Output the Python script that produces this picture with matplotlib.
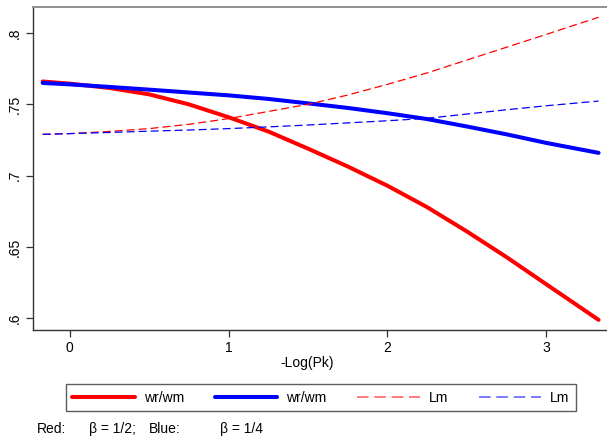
import matplotlib
matplotlib.use('Agg')
import matplotlib.pyplot as plt

plt.rcParams['font.family'] = ['Liberation Sans', 'DejaVu Sans']

# -Log(Pk) grid and the four curves
logpk = [-0.17, 0.0, 0.25, 0.5, 0.75, 1.0, 1.25, 1.5, 1.75, 2.0, 2.25, 2.5, 2.75, 3.0, 3.33]
wr_red = [0.766, 0.7645, 0.7615, 0.757, 0.750, 0.741, 0.731, 0.719, 0.7065,
          0.693, 0.678, 0.661, 0.643, 0.624, 0.599]
wr_blue = [0.765, 0.764, 0.7622, 0.7603, 0.7583, 0.7563, 0.7538, 0.7507, 0.7475,
           0.7438, 0.7397, 0.7345, 0.7290, 0.7230, 0.716]
lm_red = [0.729, 0.7295, 0.731, 0.733, 0.736, 0.740, 0.745, 0.750, 0.7565,
          0.764, 0.772, 0.781, 0.790, 0.799, 0.811]
lm_blue = [0.729, 0.7295, 0.7303, 0.7312, 0.732, 0.733, 0.7342, 0.7355, 0.737,
           0.7385, 0.7402, 0.7432, 0.7462, 0.749, 0.7523]

xticks = [0, 1, 2, 3]
yticks = [0.6, 0.65, 0.7, 0.75, 0.8]
ylabels = ['.6', '.65', '.7', '.75', '.8']

fs = 10

fig = plt.figure(figsize=(6.07, 4.36), dpi=100)
ax = fig.add_axes([33 / 607, 1 - 330 / 436, 1 - 33 / 607, 323 / 436])

dash = (0, (6.4, 3.2))
l1, = ax.plot(logpk, wr_red, color='red', lw=2.9, solid_capstyle='round')
l2, = ax.plot(logpk, wr_blue, color='blue', lw=2.9, solid_capstyle='round')
l3, = ax.plot(logpk, lm_red, color='red', lw=0.9, linestyle=dash)
l4, = ax.plot(logpk, lm_blue, color='blue', lw=0.9, linestyle=dash)

ax.set_xlim(-0.231, 3.383)
ax.set_ylim(0.5919, 0.8182)
ax.set_xticks(xticks)
ax.set_yticks(yticks)
ax.set_yticklabels(ylabels)
ax.tick_params(axis='both', labelsize=fs, length=5, width=0.9, color='#333333')
ax.tick_params(axis='x', pad=3)
ax.tick_params(axis='y', pad=3)
for lab in ax.get_yticklabels():
    lab.set_rotation(90)
    lab.set_va('center')

ax.spines['right'].set_visible(False)
ax.spines['top'].set_color('#888888')
ax.spines['top'].set_linewidth(1.3)
for s in ['left', 'bottom']:
    ax.spines[s].set_color('#333333')
    ax.spines[s].set_linewidth(1.0)

ax.set_xlabel('-Log(Pk)', fontsize=fs)
ax.xaxis.set_label_coords(0.477, -0.102)
ax.xaxis.label.set_va('center')

leg = fig.legend([l1, l2, l3, l4], ['wr/wm', 'wr/wm', 'Lm', 'Lm'],
                 loc='center', bbox_to_anchor=(321 / 607, 1 - 397.5 / 436),
                 ncol=4, fontsize=fs, handlelength=4.5, handletextpad=0.65,
                 columnspacing=2.2, borderpad=0.45, frameon=True, fancybox=False)
leg.get_frame().set_edgecolor('#333333')
leg.get_frame().set_linewidth(1.0)
# legend dashes are drawn in a lighter tint
leg.get_lines()[2].set_color('#ff7070')
leg.get_lines()[3].set_color('#7070ff')
leg.get_lines()[2].set_linewidth(1.3)
leg.get_lines()[3].set_linewidth(1.3)

ty = 1 - 429 / 436
fig.text(37 / 607, ty, 'Red:', fontsize=fs, va='center')
fig.text(89 / 607, ty, '\u03b2 = 1/2;', fontsize=fs, va='center')
fig.text(149 / 607, ty, 'Blue:', fontsize=fs, va='center')
fig.text(220 / 607, ty, '\u03b2 = 1/4', fontsize=fs, va='center')

fig.savefig('out.png', dpi=100)
